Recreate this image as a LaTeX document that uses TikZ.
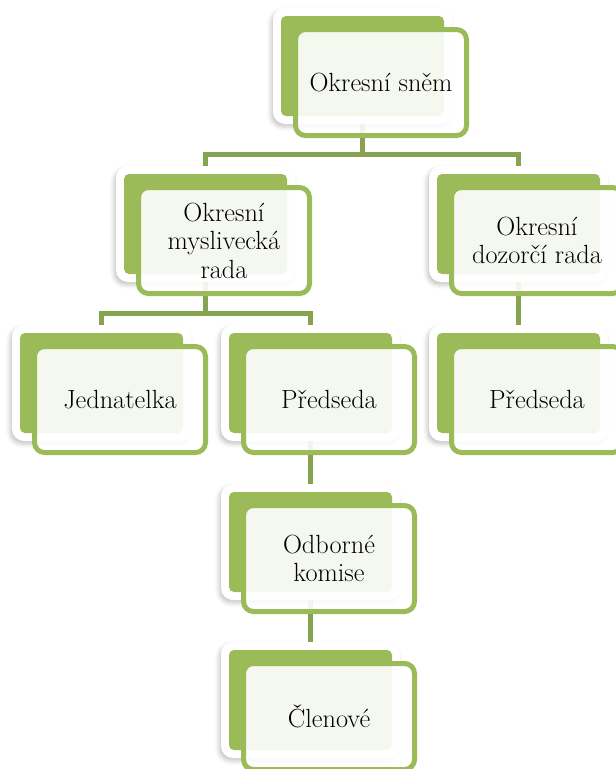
\documentclass[tikz,border=0pt]{standalone}
\usetikzlibrary{shadows.blur,calc}
\definecolor{ogreen}{HTML}{9BBB59}
\definecolor{oconn}{HTML}{86A34F}
\tikzset{
  backwhite/.style={fill=white, rounded corners=12pt, minimum width=179pt, minimum height=116pt,
    inner sep=0pt, outer sep=0pt,
    blur shadow={shadow xshift=-2pt, shadow yshift=-3pt, shadow blur radius=4pt, shadow opacity=22}},
  backgreen/.style={fill=ogreen, rounded corners=5pt, minimum width=163pt, minimum height=100pt,
    inner sep=0pt, outer sep=0pt},
  frontbox/.style={draw=ogreen, line width=5pt, fill=white, fill opacity=0.9, text opacity=1,
    rounded corners=10pt, minimum width=171pt, minimum height=106pt, inner sep=0pt, outer sep=0pt,
    align=center, font=\rmfamily\fontsize{26.3}{28.5}\selectfont},
  conn/.style={draw=oconn, line width=5pt, line join=miter}
}
\begin{document}
\begin{tikzpicture}[x=1pt,y=-1pt]
\useasboundingbox (0,0) rectangle (616,769);
\clip (0,0) rectangle (616,769);
\coordinate (ptop) at (281+81.5,16+50);
\coordinate (pl2a) at (124+81.5,174+50);
\coordinate (pl2b) at (437+81.5,174+50);
\coordinate (pl3a) at (20+81.5,333+50);
\coordinate (pl3b) at (229+81.5,333+50);
\coordinate (pl3c) at (437+81.5,333+50);
\coordinate (pl4) at (229+81.5,492+50);
\coordinate (pl5) at (229+81.5,650+50);
\foreach \n in {top,l2a,l2b,l3a,l3b,l3c,l4,l5}{
  \path (p\n) ++(0,-50) coordinate (t\n);
}
% connectors
\draw[conn] (tl2a) -- ++(0,-20) coordinate (h1) -| (tl2b);
\draw[conn] (ptop) -- (ptop |- h1);
\draw[conn] (tl3a) -- ++(0,-20) coordinate (h2) -| (tl3b);
\draw[conn] (pl2a) -- (pl2a |- h2);
\draw[conn] (pl2b) -- (tl3c);
\draw[conn] (pl3b) -- (tl4);
\draw[conn] (pl4) -- (tl5);
% boxes
\foreach \n/\t in {top/{Okresní sněm},
                   l2a/{Okresní\\myslivecká\\rada},
                   l2b/{Okresní\\dozorčí rada},
                   l3a/{Jednatelka},
                   l3b/{Předseda},
                   l3c/{Předseda},
                   l4/{Odborné\\komise},
                   l5/{Členové}}{
  \node[backwhite] (w\n) at (p\n) {};
  \node[backgreen] (g\n) at (p\n) {};
  \node[frontbox] (f\n) at ($(p\n)+(18.5,16.5)$) {\t};
}
\end{tikzpicture}
\end{document}
